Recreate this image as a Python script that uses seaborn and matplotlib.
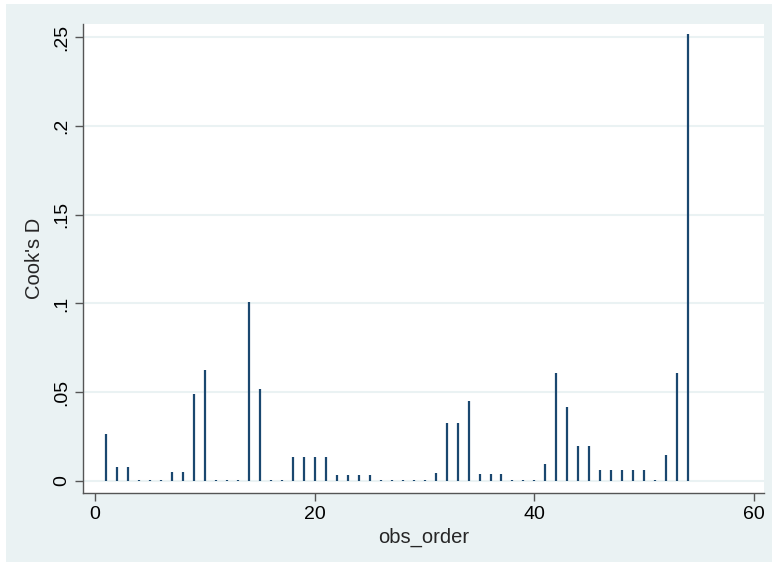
import numpy as np
import pandas as pd
import matplotlib
matplotlib.use("Agg")
import matplotlib.pyplot as plt
import seaborn as sns
from matplotlib.patches import Rectangle

obs_order = list(range(1, 55))
cooks_d = [
    0.0263, 0.0077, 0.0077, 0.0005, 0.0005, 0.0005, 0.0050, 0.0050, 0.0488, 0.0625,
    0.0005, 0.0005, 0.0005, 0.1010, 0.0516, 0.0005, 0.0005, 0.0133, 0.0133, 0.0133,
    0.0133, 0.0034, 0.0034, 0.0034, 0.0034, 0.0005, 0.0005, 0.0005, 0.0005, 0.0005,
    0.0043, 0.0325, 0.0325, 0.0450, 0.0040, 0.0040, 0.0040, 0.0005, 0.0005, 0.0005,
    0.0095, 0.0606, 0.0417, 0.0197, 0.0197, 0.0062, 0.0062, 0.0062, 0.0062, 0.0062,
    0.0005, 0.0146, 0.0606, 0.2520,
]
yticks = [0, 0.05, 0.1, 0.15, 0.2, 0.25]
ytick_labels = ["0", ".05", ".1", ".15", ".2", ".25"]
xticks = [0, 20, 40, 60]

df = pd.DataFrame({"obs_order": obs_order, "cooksd": cooks_d})

sns.set_theme(style="white")
plt.rcParams["font.family"] = ["Liberation Sans", "DejaVu Sans"]

bg = "#EAF2F3"
navy = "#1A476F"

fig = plt.figure(figsize=(7.72, 5.67), dpi=100, facecolor="white")
# light outer graph region, stata style
fig.patches.append(Rectangle((6 / 772, 5 / 567), 766 / 772, 558 / 567,
                             transform=fig.transFigure, facecolor=bg,
                             edgecolor="none", zorder=0))
ax = fig.add_axes([83 / 772, 74 / 567, 681 / 772, 469 / 567])
ax.set_zorder(2)
ax.set_facecolor("white")

for y in yticks:
    ax.axhline(y, color=bg, lw=1.5, zorder=1)

ax.vlines(df["obs_order"], 0, df["cooksd"], color=navy, lw=1.6, zorder=2)

ax.set_xlim(-1.1, 60.9)
ax.set_ylim(-0.0068, 0.2575)
ax.set_xticks(xticks)
ax.set_yticks(yticks)
ax.set_yticklabels(ytick_labels, rotation=90, va="center")
ax.tick_params(axis="both", direction="out", length=5.5, width=1, color="#555555",
               labelsize=14, labelcolor="black", left=True, bottom=True, pad=4)

for side in ["top", "right"]:
    ax.spines[side].set_visible(False)
for side in ["left", "bottom"]:
    ax.spines[side].set_color("#555555")
    ax.spines[side].set_linewidth(1)

ax.set_xlabel("obs_order", fontsize=14.5, labelpad=3)
ax.set_ylabel("Cook's D", fontsize=14.5, labelpad=6)

fig.savefig("out.png", dpi=100, facecolor="white")
